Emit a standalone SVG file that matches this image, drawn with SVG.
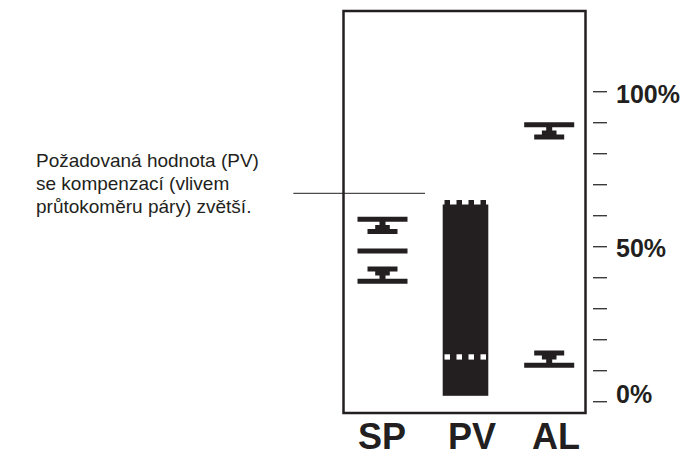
<svg xmlns="http://www.w3.org/2000/svg" xmlns:xlink="http://www.w3.org/1999/xlink" width="684" height="457" viewBox="0 0 684 457">
  <style>
    .ink { fill: #231f20; }
    .frame { fill: none; stroke: #231f20; stroke-width: 2.5; }
    .tick { stroke: #3a3a3a; stroke-width: 1.4; }
    .lead { stroke: #231f20; stroke-width: 1; fill: none; }
    .pct { font-family: "Liberation Sans", Arial, Helvetica, sans-serif; font-weight: bold; font-size: 25px; fill: #231f20; }
    .col { font-family: "Liberation Sans", Arial, Helvetica, sans-serif; font-weight: bold; font-size: 36px; fill: #231f20; text-anchor: middle; }
    .note { font-family: "Liberation Sans", Arial, Helvetica, sans-serif; font-size: 19px; fill: #231f20; }
  </style>
  <defs>
    <!-- limit marker, wide bar on top -->
    <path id="mUp" d="M-25,0 H25 V5 H3 V8.3 H7.3 V12.3 H15 V17.3 H-15 V12.3 H-7.3 V8.3 H-3 V5 H-25 Z"/>
    <!-- limit marker, wide bar at bottom -->
    <path id="mDown" d="M-15,0 H15 V5 H7.3 V9 H3 V12.3 H25 V17.3 H-25 V12.3 H-3 V9 H-7.3 V5 H-15 Z"/>
  </defs>

  <g id="frame">
    <rect class="frame" x="343.5" y="11" width="242" height="402"/>
  </g>

  <g id="scale">
    <g class="tick">
      <line x1="593" y1="91.7" x2="607" y2="91.7"/>
      <line x1="593" y1="122.7" x2="607" y2="122.7"/>
      <line x1="593" y1="153.7" x2="607" y2="153.7"/>
      <line x1="593" y1="184.7" x2="607" y2="184.7"/>
      <line x1="593" y1="215.7" x2="607" y2="215.7"/>
      <line x1="593" y1="246.7" x2="607" y2="246.7"/>
      <line x1="593" y1="277.7" x2="607" y2="277.7"/>
      <line x1="593" y1="308.7" x2="607" y2="308.7"/>
      <line x1="593" y1="339.7" x2="607" y2="339.7"/>
      <line x1="593" y1="370.7" x2="607" y2="370.7"/>
      <line x1="593" y1="401.7" x2="607" y2="401.7"/>
    </g>
    <text class="pct" x="616" y="103.3">100%</text>
    <text class="pct" x="616" y="256.7">50%</text>
    <text class="pct" x="616" y="403.3">0%</text>
  </g>

  <g id="sp">
    <use xlink:href="#mUp" href="#mUp" class="ink" x="382.5" y="216.7"/>
    <rect class="ink" x="357.5" y="248.5" width="50" height="5"/>
    <use xlink:href="#mDown" href="#mDown" class="ink" x="382.5" y="266.5"/>
    <text class="col" x="382" y="449">SP</text>
  </g>

  <g id="pv">
    <rect class="ink" x="442.7" y="204.5" width="45.6" height="191.3"/>
    <rect class="ink" x="444.5" y="200" width="5.5" height="5"/>
    <rect class="ink" x="456.5" y="200" width="5.5" height="5"/>
    <rect class="ink" x="468.5" y="200" width="5.5" height="5"/>
    <rect class="ink" x="480.5" y="200" width="5.5" height="5"/>
    <g fill="#ffffff">
      <rect x="444.5" y="354.3" width="5.5" height="5.3"/>
      <rect x="456.5" y="354.3" width="5.5" height="5.3"/>
      <rect x="468.5" y="354.3" width="5.5" height="5.3"/>
      <rect x="480.5" y="354.3" width="5.5" height="5.3"/>
    </g>
    <text class="col" x="472" y="449">PV</text>
  </g>

  <g id="al">
    <use xlink:href="#mUp" href="#mUp" class="ink" x="549.2" y="122.3"/>
    <use xlink:href="#mDown" href="#mDown" class="ink" x="549.2" y="350.5"/>
    <text class="col" x="556" y="449">AL</text>
  </g>

  <g id="note">
    <text class="note" x="36" y="167">Požadovaná hodnota (PV)</text>
    <text class="note" x="36" y="190">se kompenzací (vlivem</text>
    <text class="note" x="36" y="212.5">průtokoměru páry) zvětší.</text>
  </g>

  <g id="connectors">
    <line class="lead" x1="293.3" y1="193.3" x2="425" y2="193.3"/>
  </g>
</svg>
